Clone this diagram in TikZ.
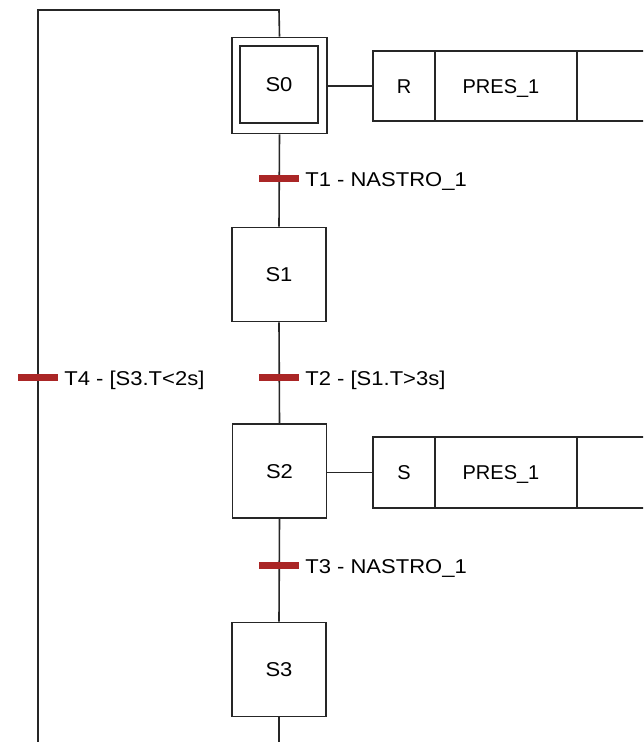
\documentclass[tikz,border=0pt]{standalone}
\usepackage{fontspec}
\setmainfont{Liberation Sans}
\begin{document}
\begin{tikzpicture}[x=1pt,y=-1pt,
  ln/.style={draw=black!85,line width=1.6pt},
  stepbox/.style={draw=black!85,line width=1.6pt,minimum width=94pt,minimum height=94pt,inner sep=0pt,text height=14pt,text depth=0pt,font=\fontsize{20}{20}\selectfont},
  actbox/.style={draw=black!85,line width=1.6pt,minimum height=70pt,inner sep=0pt,text height=14pt,text depth=0pt,font=\fontsize{20}{20}\selectfont},
  trbar/.style={fill=trred,draw=none,minimum width=40pt,minimum height=7pt,inner sep=0pt},
  trlabel/.style={anchor=base west,inner sep=0pt,font=\fontsize{20}{20}\selectfont}]
\definecolor{trred}{RGB}{170,38,38}
\clip (0,0) rectangle (643,742);
\fill[white] (0,0) rectangle (643,742);
% steps
\node[stepbox,minimum width=95pt,minimum height=96pt] (S0o) at (279.5,85.5) {};
\node[stepbox,minimum width=78pt,minimum height=77pt] (S0) at (279,84.5) {\scalebox{1.1}[1]{S0}};
\node[stepbox] (S1) at (279,274.5) {\scalebox{1.1}[1]{S1}};
\node[stepbox] (S2) at (279.5,471) {\scalebox{1.1}[1]{S2}};
\node[stepbox] (S3) at (279,669.5) {\scalebox{1.1}[1]{S3}};
% actions
\node[actbox,minimum width=62pt] (A0q) at (404,86) {R};
\node[actbox,minimum width=142pt] (A0n) at (506,86) {PRES\_1\hspace*{10pt}};
\node[actbox,minimum width=140pt] (A0e) at (647,86) {};
\node[actbox,minimum width=62pt,minimum height=71pt] (A2q) at (404,472.5) {S};
\node[actbox,minimum width=142pt,minimum height=71pt] (A2n) at (506,472.5) {PRES\_1\hspace*{10pt}};
\node[actbox,minimum width=140pt,minimum height=71pt] (A2e) at (647,472.5) {};
\draw[ln] (S0o.east |- A0q.west) -- (A0q.west);
\draw[ln] (S2.east |- A2q.west) -- (A2q.west);
% transitions
\coordinate (t1) at (279,178.5);
\coordinate (t2) at (279,377);
\coordinate (t3) at (279,565);
\coordinate (t4) at (38,377);
\coordinate (cTL) at (38,10);
\coordinate (cTR) at (279,10);
\coordinate (cBL) at (38,745);
\coordinate (cBR) at (279,745);
\draw[ln] (S0o.south) -- (S1.north);
\draw[ln] (S1.south) -- (S2.north);
\draw[ln] (S2.south) -- (S3.north);
\draw[ln] (S3.south) -- (cBR);
\draw[ln] (cBL) -- (cTL) -- (cTR) -- (S0o.north);
\node[trbar] (b1) at (t1) {};
\node[trbar] (b2) at (t2) {};
\node[trbar] (b3) at (t3) {};
\node[trbar] (b4) at (t4) {};
\node[trlabel] (l1) at ([xshift=6pt,yshift=-8pt]b1.east) {\scalebox{1.1}[1]{T1 - NASTRO\_1}};
\node[trlabel] (l2) at ([xshift=6pt,yshift=-8pt]b2.east) {\scalebox{1.1}[1]{T2 - [S1.T>3s]}};
\node[trlabel] (l3) at ([xshift=6pt,yshift=-8pt]b3.east) {\scalebox{1.1}[1]{T3 - NASTRO\_1}};
\node[trlabel] (l4) at ([xshift=6pt,yshift=-8pt]b4.east) {\scalebox{1.1}[1]{T4 - [S3.T<2s]}};
\end{tikzpicture}
\end{document}
